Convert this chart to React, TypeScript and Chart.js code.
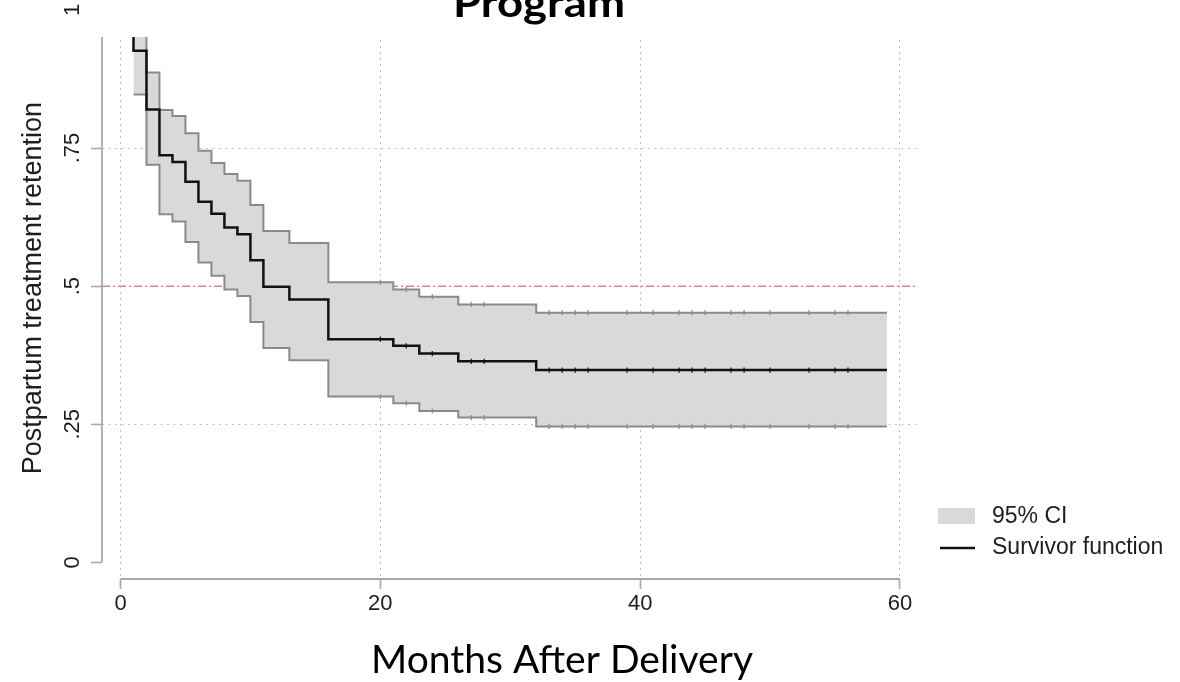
import React, { useEffect, useRef } from 'react';
import { Chart, registerables } from 'chart.js';

Chart.register(...registerables);

// ---- Data ----
const eventTimes = [0, 1, 2, 3, 4, 5, 6, 7, 8, 9, 10, 11, 13, 16, 21, 23, 26, 32];
const survivorValues = [1.0, 0.926, 0.82, 0.737, 0.725, 0.689, 0.653, 0.631, 0.606, 0.594, 0.547, 0.499, 0.476, 0.404, 0.392, 0.378, 0.364, 0.348];
const ciTimes = [1, 2, 3, 4, 5, 6, 7, 8, 9, 10, 11, 13, 16, 21, 23, 26, 32];
const ciUpper = [0.985, 0.887, 0.819, 0.808, 0.777, 0.745, 0.723, 0.703, 0.691, 0.647, 0.6, 0.578, 0.507, 0.494, 0.481, 0.467, 0.452];
const ciLower = [0.847, 0.72, 0.63, 0.617, 0.58, 0.543, 0.519, 0.494, 0.482, 0.435, 0.388, 0.366, 0.3, 0.288, 0.274, 0.262, 0.246];
const censorTimes = [20, 22, 24, 27, 28, 33, 34, 35, 36, 39, 41, 43, 44, 45, 47, 48, 50, 53, 55, 56];
const followUpEnd = 59;
const xTicks = [0, 20, 40, 60];
const yTicks = [0, 0.25, 0.5, 0.75, 1];
const yGridValues = [0.25, 0.75];
const referenceLevel = 0.5;
const legendLabels = ['95% CI', 'Survivor function'];
const titleText = 'Program';
const xTitle = 'Months After Delivery';
const yTitle = 'Postpartum treatment retention';

// ---- Styles ----
const SANS = '"Liberation Sans", Arial, Helvetica, sans-serif';
const BAND = '#d9d9d9';
const CI_LINE = '#8a8a8a';
const SURV_LINE = '#111111';
const AXIS = '#a9a9a9';
const GRID = '#c2c2c2';
const TEXT = '#1e1e1e';

type Pt = { x: number; y: number; c: boolean };

function stepValue(times: number[], values: number[], t: number) {
  let v = values[0];
  for (let i = 0; i < times.length; i++) if (times[i] <= t) v = values[i];
  return v;
}

function buildSteps(times: number[], values: number[]): Pt[] {
  const pts: Pt[] = times.map((t, i) => ({ x: t, y: values[i], c: false }));
  censorTimes
    .filter((t) => t >= times[0] && !times.includes(t))
    .forEach((t) => pts.push({ x: t, y: stepValue(times, values, t), c: true }));
  pts.push({ x: followUpEnd, y: values[values.length - 1], c: false });
  return pts.sort((a, b) => a.x - b.x);
}

function drawFitted(ctx: CanvasRenderingContext2D, text: string, font: string, cx: number, baseline: number, width: number) {
  ctx.save();
  ctx.font = font;
  const w = ctx.measureText(text).width;
  ctx.translate(cx, baseline);
  ctx.scale(width / w, 1);
  ctx.textAlign = 'center';
  ctx.textBaseline = 'alphabetic';
  ctx.fillStyle = '#000';
  ctx.fillText(text, 0, 0);
  ctx.restore();
}

const decorPlugin = {
  id: 'decor',
  beforeDatasetsDraw(chart: any) {
    const { ctx, chartArea, scales } = chart;
    const yp = scales.y.getPixelForValue(referenceLevel);
    ctx.save();
    ctx.strokeStyle = '#e07ab4';
    ctx.lineWidth = 1.5;
    ctx.setLineDash([8, 3, 2, 3]);
    ctx.beginPath();
    ctx.moveTo(chartArea.left, yp);
    ctx.lineTo(chartArea.right, yp);
    ctx.stroke();
    ctx.restore();
  },
  afterDraw(chart: any) {
    const { ctx, chartArea, scales } = chart;
    const xs = scales.x;
    const ys = scales.y;
    ctx.save();
    // axis lines spanning the tick range
    ctx.strokeStyle = AXIS;
    ctx.lineWidth = 1.8;
    ctx.beginPath();
    ctx.moveTo(chartArea.left, ys.getPixelForValue(yTicks[0]));
    ctx.lineTo(chartArea.left, ys.getPixelForValue(yTicks[yTicks.length - 1]));
    ctx.stroke();
    ctx.beginPath();
    ctx.moveTo(xs.getPixelForValue(xTicks[0]), chartArea.bottom);
    ctx.lineTo(xs.getPixelForValue(xTicks[xTicks.length - 1]), chartArea.bottom);
    ctx.stroke();

    // white banner over the top of the figure, then the (cut) title
    ctx.fillStyle = '#ffffff';
    ctx.fillRect(85, 0, 1095, 37);
    drawFitted(ctx, titleText, 'bold 40px Lato, "Open Sans", sans-serif', 539, 17, 172);

    // x axis title
    drawFitted(ctx, xTitle, '38px Lato, "Open Sans", sans-serif', 562, 673, 382);

    // y axis title
    ctx.save();
    ctx.translate(34, 102);
    ctx.rotate(-Math.PI / 2);
    ctx.font = `27px ${SANS}`;
    ctx.fillStyle = TEXT;
    ctx.textAlign = 'right';
    ctx.textBaseline = 'middle';
    ctx.fillText(yTitle, 0, 0);
    ctx.restore();

    // legend
    ctx.fillStyle = BAND;
    ctx.fillRect(938, 508, 37, 16);
    ctx.strokeStyle = SURV_LINE;
    ctx.lineWidth = 2.5;
    ctx.beginPath();
    ctx.moveTo(940, 548);
    ctx.lineTo(975, 548);
    ctx.stroke();
    ctx.font = `23px ${SANS}`;
    ctx.fillStyle = TEXT;
    ctx.textAlign = 'left';
    ctx.textBaseline = 'middle';
    ctx.fillText(legendLabels[0], 992, 517);
    ctx.fillText(legendLabels[1], 992, 548);
    ctx.restore();
  },
};

function fmtY(v: number) {
  if (v === 0) return '0';
  if (v === 1) return '1';
  return String(v).replace(/^0/, '');
}

export default function App() {
  const canvasRef = useRef<HTMLCanvasElement | null>(null);

  useEffect(() => {
    const canvas = canvasRef.current;
    if (!canvas) return;

    const tickPoint = (color: string) => ({
      pointStyle: 'line' as const,
      pointRotation: 90,
      pointRadius: (c: any) => (c.raw && c.raw.c ? 2.6 : 0),
      pointHoverRadius: 0,
      pointHitRadius: 0,
      pointBorderColor: color,
      pointBorderWidth: 1.2,
    });

    const chart = new Chart(canvas, {
      type: 'line',
      data: {
        datasets: [
          {
            label: 'upper',
            data: buildSteps(ciTimes, ciUpper),
            stepped: 'before',
            borderColor: CI_LINE,
            borderWidth: 2,
            backgroundColor: BAND,
            fill: '+1',
            order: 2,
            ...tickPoint(CI_LINE),
          },
          {
            label: 'lower',
            data: buildSteps(ciTimes, ciLower),
            stepped: 'before',
            borderColor: CI_LINE,
            borderWidth: 2,
            fill: false,
            order: 1,
            ...tickPoint(CI_LINE),
          },
          {
            label: 'survivor',
            data: buildSteps(eventTimes, survivorValues),
            stepped: 'before',
            borderColor: SURV_LINE,
            borderWidth: 2.5,
            fill: false,
            order: 0,
            ...tickPoint(SURV_LINE),
          },
        ],
      },
      options: {
        responsive: false,
        animation: false,
        events: [],
        layout: { padding: { left: 0, top: 10, right: 262, bottom: 0 } },
        plugins: {
          legend: { display: false },
          tooltip: { enabled: false },
          title: { display: false },
        },
        scales: {
          x: {
            type: 'linear',
            min: -1.424,
            max: 61.39,
            afterBuildTicks: (s: any) => {
              s.ticks = xTicks.map((v) => ({ value: v }));
            },
            afterFit: (s: any) => {
              s.height = 103;
              s.paddingLeft = 0;
              s.paddingRight = 0;
            },
            grid: {
              color: GRID,
              lineWidth: 1,
              tickLength: 10,
              tickColor: AXIS,
              tickWidth: 1.6,
              tickBorderDash: [],
            },
            border: { display: false, dash: [2, 4] },
            ticks: {
              color: TEXT,
              font: { family: SANS, size: 22 },
              padding: 2,
              maxRotation: 0,
              autoSkip: false,
              callback: (v: any) => String(v),
            },
          },
          y: {
            type: 'linear',
            min: -0.0302,
            max: 1,
            afterBuildTicks: (s: any) => {
              s.ticks = yTicks.map((v) => ({ value: v }));
            },
            afterFit: (s: any) => {
              s.width = 102;
              s.paddingTop = 0;
              s.paddingBottom = 0;
            },
            grid: {
              color: (c: any) => (c.tick && yGridValues.includes(c.tick.value) ? GRID : 'rgba(0,0,0,0)'),
              lineWidth: 1,
              tickLength: 11,
              tickColor: AXIS,
              tickWidth: 1.6,
              tickBorderDash: [],
            },
            border: { display: false, dash: [2, 4.5] },
            ticks: {
              color: TEXT,
              font: { family: SANS, size: 22 },
              padding: 3,
              minRotation: 90,
              maxRotation: 90,
              crossAlign: 'center',
              autoSkip: false,
              callback: (v: any) => fmtY(Number(v)),
            },
          },
        },
      },
      plugins: [decorPlugin],
    } as any);

    return () => chart.destroy();
  }, []);

  return (
    <div style={{ position: 'absolute', left: 0, top: 0, width: 1180, height: 682, background: '#fff' }}>
      <canvas ref={canvasRef} width={1180} height={682} style={{ display: 'block' }} />
    </div>
  );
}
